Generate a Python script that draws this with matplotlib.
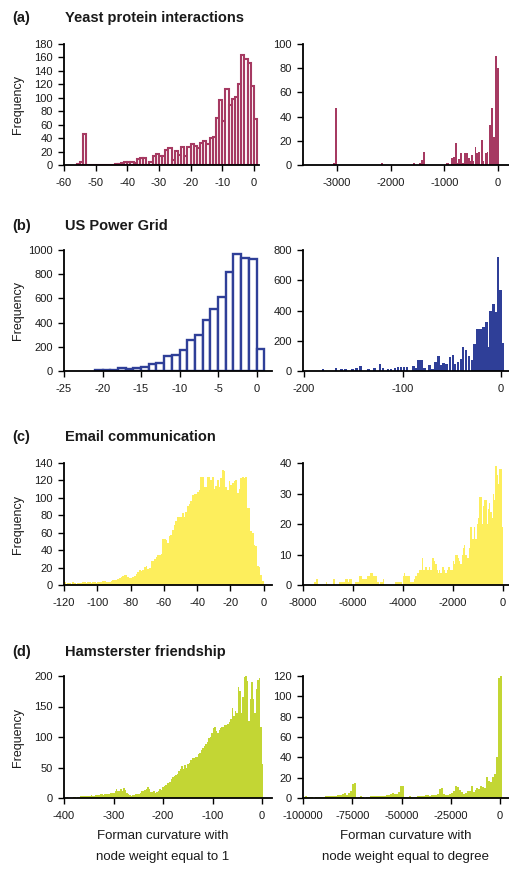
import numpy as np
import matplotlib.pyplot as plt

plt.rcParams['font.family'] = ['Liberation Sans', 'DejaVu Sans']
plt.rcParams['axes.unicode_minus'] = False

W, H = 510, 871

# ---------------------------------------------------------------------------
# data
# ---------------------------------------------------------------------------
# (a) Yeast protein interactions, node weight 1 : integer bins, left edges
a1_start = -56
a1_counts = [2, 5, 46, 0, 0, 0, 0, 0, 0, 0, 0, 0,
             2, 2, 3, 4, 4, 4, 3, 9, 10, 10, 0,
             5, 13, 16, 14, 14, 22, 26, 8, 21, 15, 27, 13, 27, 31, 28, 25,
             33, 35, 31, 40, 42, 70, 96, 65, 113, 89, 98, 101, 121, 164,
             157, 152, 117, 68]
# (a) node weight = degree : bin centres and counts
a2_centers = [-3060, -3020, -2155, -1570, -1458, -1422, -1386, -955, -925,
              -855, -820, -785, -750, -720, -685, -650, -610, -580, -545,
              -515, -490, -460, -420, -385, -350, -300, -270, -230, -195,
              -155, -130, -105, -75, -40, -5]
a2_counts = [2, 47, 2, 2, 2, 4, 11, 2, 2,
             6, 7, 18, 2, 5, 10, 2, 10, 10, 6,
             3, 8, 3, 15, 10, 11, 21, 3, 10, 11,
             33, 33, 47, 23, 90, 80]

# (b) US Power Grid
b1_start = -21
b1_counts = [5, 8, 10, 25, 15, 25, 30, 55, 70, 120, 130, 175, 255, 300,
             420, 510, 615, 815, 970, 930, 925, 180]
b2_edges = [-182, -169, -163, -159, -152, -148, -144, -136, -130, -124,
            -121, -116, -113, -109, -106, -103, -100, -97, -90, -87, -85,
            -82, -79, -74, -71, -68, -65, -62, -60, -57, -53, -50, -48,
            -45, -42, -40, -37, -34, -31, -29, -26, -25, -22, -19, -16,
            -14, -12, -9, -7, -4.4, -2, 0.7]
b2_counts = [11, 20, 11, 11, 11, 20, 33, 11, 20, 48,
             20, 15, 11, 20, 24, 24, 24, 24, 33, 18, 73,
             73, 22, 37, 15, 62, 99, 40, 51, 44, 95, 108, 46,
             59, 79, 160, 139, 99, 73, 178, 178, 275, 275, 288, 324,
             160, 396, 440, 390, 751, 535, 183]

# (c) Email communication
c1_start = -120
c1_counts = [3, 1, 2, 2, 1, 3, 2, 1, 2, 2,
             2, 3, 3, 2, 3, 3, 2, 3, 3, 2,
             3, 3, 4, 5, 5, 4, 3, 4, 5, 6,
             6, 6, 7, 8, 9, 10, 12, 12, 9, 8,
             8, 9, 10, 13, 15, 17, 16, 17, 21, 22,
             18, 20, 27, 28, 30, 32, 34, 35, 36, 53,
             53, 52, 48, 56, 57, 63, 69, 73, 78, 78,
             78, 83, 78, 84, 91, 93, 96, 103, 104, 105,
             107, 109, 124, 124, 112, 112, 124, 124, 121, 124,
             110, 114, 121, 113, 123, 132, 131, 112, 109, 119,
             115, 117, 119, 120, 106, 110, 123, 124, 123, 124,
             88, 88, 62, 60, 46, 45, 22, 21, 12, 5]
c2_start, c2_width = -8000, 50
c2_counts = [0, 0, 0, 0, 0, 0, 0, 0, 0, 1,
             2, 2, 0, 0, 0, 0, 0, 0, 1, 0,
             0, 0, 0, 0, 2, 2, 0, 0, 0, 1,
             1, 1, 1, 1, 2, 2, 1, 2, 2, 0,
             0, 0, 1, 1, 1, 3, 3, 2, 2, 2,
             2, 3, 3, 3, 4, 4, 3, 3, 3, 1,
             1, 0, 1, 1, 2, 0, 0, 0, 0, 0,
             0, 0, 0, 0, 1, 1, 1, 1, 1, 0,
             3, 4, 3, 3, 3, 3, 1, 1, 1, 2,
             3, 4, 4, 5, 5, 9, 5, 5, 6, 5,
             5, 6, 5, 9, 9, 8, 7, 5, 4, 5,
             4, 6, 6, 5, 4, 5, 6, 6, 5, 5,
             8, 7, 10, 10, 9, 8, 7, 10, 12, 13,
             10, 9, 9, 12, 19, 15, 15, 19, 15, 20,
             22, 29, 29, 20, 26, 28, 28, 20, 25, 27,
             24, 22, 30, 28, 39, 36, 33, 38, 38, 19]

# (d) Hamsterster friendship
d1_start, d1_width = -394, 3
d1_counts = [2, 0, 0, 0, 1, 1, 0, 2, 2, 3,
             3, 3, 3, 4, 3, 4, 5, 4, 4, 5,
             5, 5, 6, 6, 5, 6, 7, 7, 7, 8,
             8, 9, 12, 14, 11, 12, 15, 11, 17, 13,
             8, 6, 5, 4, 5, 5, 6, 7, 7, 9,
             12, 11, 13, 15, 18, 14, 10, 10, 11, 9,
             10, 12, 14, 13, 18, 20, 21, 24, 25, 27,
             31, 34, 36, 38, 40, 44, 48, 52, 47, 54,
             50, 56, 58, 62, 65, 66, 67, 68, 72, 74,
             78, 82, 85, 88, 92, 98, 100, 106, 115, 116,
             110, 106, 112, 115, 116, 117, 119, 120, 122, 125,
             130, 147, 135, 143, 139, 182, 176, 140, 165, 198,
             200, 192, 126, 162, 190, 162, 140, 178, 194, 196,
             116, 55]
d2_start, d2_width = -100000, 1000
d2_counts = [1, 2, 1, 1, 1, 0, 1, 1, 1, 1,
             1, 2, 2, 2, 2, 2, 2, 3, 3, 3,
             4, 5, 3, 5, 7, 14, 15, 0, 1, 2,
             1, 0, 1, 1, 2, 2, 2, 2, 2, 2,
             2, 2, 3, 3, 4, 5, 4, 4, 6, 12,
             12, 1, 1, 1, 2, 1, 1, 1, 2, 2,
             2, 2, 3, 3, 2, 3, 3, 3, 4, 9,
             10, 4, 3, 3, 4, 5, 7, 12, 11, 8,
             6, 4, 5, 7, 7, 12, 6, 8, 10, 9,
             12, 11, 10, 21, 17, 16, 21, 24, 40, 118,
             120]

titles = ['Yeast protein interactions', 'US Power Grid',
          'Email communication', 'Hamsterster friendship']
letters = ['(a)', '(b)', '(c)', '(d)']
colors = ['#A63A62', '#2F3F98', '#FDEE5C', '#C3D634']

# ---------------------------------------------------------------------------
# layout (pixel boxes of each axes)
# ---------------------------------------------------------------------------
fig = plt.figure(figsize=(W / 100, H / 100), dpi=100)


def add_axes(x0, x1, ytop, ybot):
    return fig.add_axes([x0 / W, 1 - ybot / H, (x1 - x0) / W, (ybot - ytop) / H])


def style(ax, xlim, ylim, xticks, yticks):
    ax.set_xlim(*xlim)
    ax.set_ylim(*ylim)
    ax.set_xticks(xticks)
    ax.set_yticks(yticks)
    for s in ['top', 'right']:
        ax.spines[s].set_visible(False)
    for s in ['left', 'bottom']:
        ax.spines[s].set_linewidth(1.3)
        ax.spines[s].set_color('black')
    ax.tick_params(axis='both', direction='out', length=4, width=1,
                   labelsize=8, labelcolor='#1a1a1a')
    ax.tick_params(axis='x', pad=5)
    ax.tick_params(axis='y', pad=4)
    ax.patch.set_alpha(0)


rows = [(44, 165), (250, 371), (463, 585), (676, 798)]
title_y = [18, 226, 437, 652]

# (a)
ax = add_axes(64, 259, *rows[0])
ax.bar(np.arange(len(a1_counts)) + a1_start, a1_counts, width=1, align='edge',
       facecolor='white', edgecolor=colors[0], linewidth=1.5)
style(ax, (-60, 1.6), (0, 180), range(-60, 1, 10), range(0, 181, 20))
ax = add_axes(303, 510, *rows[0])
ax.bar(a2_centers, a2_counts, width=34, color=colors[0], linewidth=0)
style(ax, (-3633, 224), (0, 100), [-3000, -2000, -1000, 0], range(0, 101, 20))

# (b)
ax = add_axes(64, 272, *rows[1])
ax.bar(np.arange(len(b1_counts)) + b1_start, b1_counts, width=1, align='edge',
       facecolor='white', edgecolor=colors[1], linewidth=1.7)
style(ax, (-25, 2), (0, 1000), range(-25, 1, 5), range(0, 1001, 200))
ax = add_axes(303, 510, *rows[1])
ax.bar(b2_edges, b2_counts, width=2.6, align='edge', color=colors[1], linewidth=0)
style(ax, (-201, 9), (0, 800), [-200, -100, 0], range(0, 801, 200))

# (c)
ax = add_axes(64, 272, *rows[2])
ax.bar(np.arange(len(c1_counts)) + c1_start, c1_counts, width=1, align='edge',
       color=colors[2], linewidth=0)
style(ax, (-120, 5), (0, 140), range(-120, 1, 20), range(0, 141, 20))
ax = add_axes(303, 510, *rows[2])
ax.bar(np.arange(len(c2_counts)) * c2_width + c2_start, c2_counts, width=c2_width,
       align='edge', color=colors[2], linewidth=0)
style(ax, (-8000, 280), (0, 40), range(-8000, 1, 2000), range(0, 41, 10))

# (d)
ax = add_axes(64, 272, *rows[3])
ax.bar(np.arange(len(d1_counts)) * d1_width + d1_start, d1_counts, width=d1_width,
       align='edge', color=colors[3], linewidth=0)
style(ax, (-400, 20), (0, 200), range(-400, 1, 100), range(0, 201, 50))
ax = add_axes(303, 510, *rows[3])
ax.bar(np.arange(len(d2_counts)) * d2_width + d2_start, d2_counts, width=d2_width,
       align='edge', color=colors[3], linewidth=0)
style(ax, (-100000, 5000), (0, 120), range(-100000, 1, 25000), range(0, 121, 20))

# texts
for i in range(4):
    fig.text(12 / W, 1 - title_y[i] / H, letters[i], fontsize=10.5,
             fontweight='bold', va='center', ha='left', color='#1a1a1a')
    fig.text(65 / W, 1 - title_y[i] / H, titles[i], fontsize=10.5,
             fontweight='bold', va='center', ha='left', color='#1a1a1a')
    ymid = (rows[i][0] + rows[i][1]) / 2
    fig.text(18 / W, 1 - ymid / H, 'Frequency', fontsize=9, rotation=90,
             va='center', ha='center', color='#1a1a1a')

fig.text(163 / W, 1 - 846 / H, 'Forman curvature with\nnode weight equal to 1',
         fontsize=9.5, ha='center', va='center', linespacing=2.0, color='#1a1a1a')
fig.text(406 / W, 1 - 846 / H, 'Forman curvature with\nnode weight equal to degree',
         fontsize=9.5, ha='center', va='center', linespacing=2.0, color='#1a1a1a')

fig.savefig('out.png', dpi=100)
